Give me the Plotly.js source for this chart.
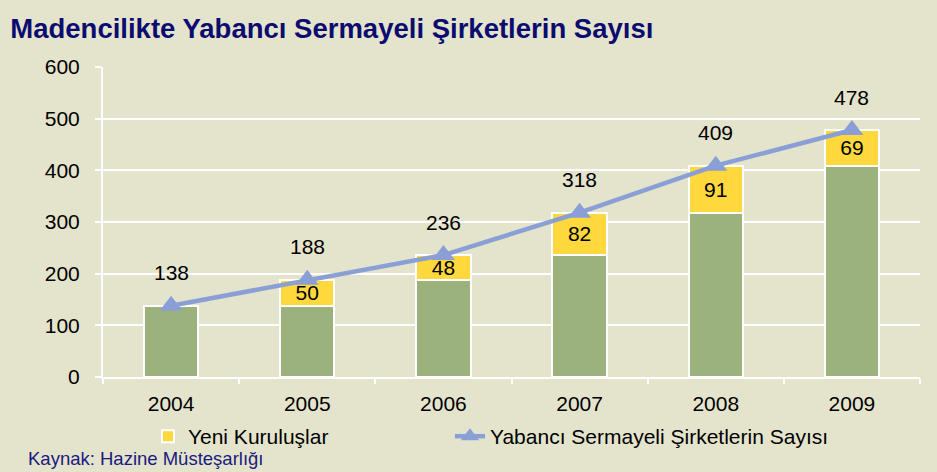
<!DOCTYPE html>
<html><head><meta charset="utf-8">
<script src="https://cdn.plot.ly/plotly-3.0.1.min.js"></script>
<style>html,body{margin:0;padding:0;background:#E4E4CC;}</style>
</head><body>
<div id="chart" style="width:937px;height:472px;"></div>
<script>
const years = ['2004','2005','2006','2007','2008','2009'];
const existing = [138, 138, 188, 236, 318, 409];
const newFirms = [null, 50, 48, 82, 91, 69];
const totals = [138, 188, 236, 318, 409, 478];

const bg = '#E4E4CC';
const FONT = 'Liberation Sans, Arial, sans-serif';
const traces = [
  {type:'bar', x:years, y:existing, name:'Mevcut', showlegend:false,
   marker:{color:'#9BB27D', line:{color:'#FFFFFF', width:2}}, hoverinfo:'skip'},
  {type:'bar', x:years, y:newFirms, name:'Yeni Kuruluşlar', legend:'legend',
   marker:{color:'#FFD83D', line:{color:'#FFFFFF', width:2}},
   text:newFirms.map(v=>v==null?'':String(v)), textposition:'inside', insidetextanchor:'middle',
   textangle:0, constraintext:'none',
   textfont:{family:FONT, size:21, color:'#000'}},
  {type:'scatter', mode:'lines+markers', x:years, y:totals, name:'Yabancı Sermayeli Şirketlerin Sayısı',
   legend:'legend2',
   line:{color:'#8A9FD5', width:4.5}, marker:{symbol:'triangle-up', size:20, color:'#8A9FD5'}}
];
const annotations = years.map((y,i)=>({x:i, y:totals[i], text:String(totals[i]), showarrow:false,
  yshift:33, font:{family:FONT, size:21, color:'#000'}}));
annotations.push({xref:'paper', yref:'paper', x:-0.094, y:-0.2645, xanchor:'left', yanchor:'middle',
  text:'Kaynak: Hazine Müsteşarlığı', showarrow:false,
  font:{family:FONT, size:18.5, color:'#1A1A80'}});
const legendFont = {family:FONT, size:21, color:'#000'};
const layout = {
  width:937, height:472, paper_bgcolor:bg, plot_bgcolor:bg,
  margin:{l:103, r:17, t:67, b:95, autoexpand:false},
  barmode:'stack', bargap:0.6,
  title:{text:'<b>Madencilikte Yabancı Sermayeli Şirketlerin Sayısı</b>', x:0.011, xanchor:'left', y:0.94, yanchor:'middle',
    font:{family:FONT, size:27.5, color:'#0C0C70'}},
  xaxis:{type:'category', automargin:false, showgrid:false, zeroline:false, showline:true, linecolor:'#FFFFFF', linewidth:2,
    ticks:'outside', tickson:'boundaries', ticklen:5, tickcolor:'#FFFFFF', tickwidth:2, ticklabelstandoff:7,
    tickfont:{family:FONT, size:21, color:'#000'}},
  yaxis:{range:[0,600], dtick:100, automargin:false, gridcolor:'#FFFFFF', gridwidth:2, zeroline:false,
    showline:true, linecolor:'#FFFFFF', linewidth:2, ticks:'outside', ticklen:6, tickcolor:'#FFFFFF', tickwidth:2,
    ticklabelstandoff:11,
    tickfont:{family:FONT, size:21, color:'#000'}},
  legend:{orientation:'h', x:0.055, xanchor:'left', y:-0.126, yanchor:'top',
    bgcolor:'rgba(0,0,0,0)', font:legendFont},
  legend2:{orientation:'h', x:0.4247, xanchor:'left', y:-0.126, yanchor:'top',
    bgcolor:'rgba(0,0,0,0)', font:legendFont},
  annotations:annotations, showlegend:true
};
Plotly.newPlot('chart', traces, layout, {displayModeBar:false, staticPlot:true});
</script>
</body></html>
